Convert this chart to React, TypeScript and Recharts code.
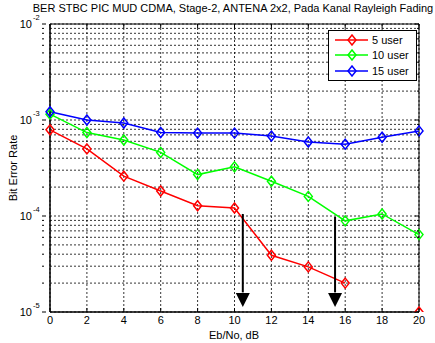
import React from "react";
import {
  LineChart,
  Line,
  XAxis,
  YAxis,
  CartesianGrid,
  ReferenceArea,
  ReferenceLine,
  ReferenceDot,
} from "recharts";

const ebno = [0, 2, 4, 6, 8, 10, 12, 14, 16, 18, 20];
const user5 = [7.9e-4, 5.0e-4, 2.6e-4, 1.82e-4, 1.28e-4, 1.21e-4, 3.9e-5, 2.95e-5, 2.0e-5, null, 1.0e-5];
const user10 = [1.15e-3, 7.4e-4, 6.2e-4, 4.6e-4, 2.7e-4, 3.25e-4, 2.3e-4, 1.6e-4, 8.9e-5, 1.05e-4, 6.4e-5];
const user15 = [1.22e-3, 1.0e-3, 9.3e-4, 7.4e-4, 7.3e-4, 7.3e-4, 6.8e-4, 5.9e-4, 5.6e-4, 6.6e-4, 7.7e-4];

const decades = [1e-5, 1e-4, 1e-3, 1e-2];
const yTicks: number[] = [];
[1e-5, 1e-4, 1e-3].forEach((d) => {
  for (let m = 1; m < 10; m++) yTicks.push(d * m);
});
yTicks.push(1e-2);

const series = [
  { key: "u5", name: "5 user", color: "#ff0000" },
  { key: "u10", name: "10 user", color: "#00ff00" },
  { key: "u15", name: "15 user", color: "#0000ff" },
];

const data = ebno.map((x, i) => ({ x, u5: user5[i], u10: user10[i], u15: user15[i] }));

const FONT = "'Liberation Sans', Arial, sans-serif";

const Diamond = (color: string) => (props: any) => {
  const { cx, cy, index } = props;
  if (cx == null || cy == null || props.value == null) return <g key={index} />;
  return (
    <path
      key={index}
      d={`M${cx},${cy - 5} L${cx + 4},${cy} L${cx},${cy + 5} L${cx - 4},${cy} Z`}
      fill="none"
      stroke={color}
      strokeWidth={1.5}
    />
  );
};

const YTick = (props: any) => {
  const { x, y, payload } = props;
  const v = payload.value;
  const isDecade = decades.some((d) => Math.abs(v - d) / d < 1e-6);
  const exp = Math.round(Math.log10(v));
  return (
    <g>
      <line x1={x} x2={x + (isDecade ? 4 : 2)} y1={y} y2={y} stroke="#000" />
      <line x1={419 - (isDecade ? 4 : 2)} x2={419} y1={y} y2={y} stroke="#000" />
      {isDecade && (
        <g fontFamily={FONT} fill="#000">
          <text x={x - 10} y={y + 4} textAnchor="end" fontSize={11}>10</text>
          <text x={x - 9} y={y - 4} textAnchor="start" fontSize={7.5}>{exp}</text>
        </g>
      )}
    </g>
  );
};

const XTick = (props: any) => {
  const { x, payload } = props;
  return (
    <g>
      <line x1={x} x2={x} y1={312} y2={308} stroke="#000" />
      <line x1={x} x2={x} y1={24} y2={28} stroke="#000" />
      <text x={x} y={324} textAnchor="middle" fontSize={11} fontFamily={FONT} fill="#000">
        {payload.value}
      </text>
    </g>
  );
};

const Arrow = (props: any) => {
  const { cx, cy } = props;
  return <path d={`M${cx - 7},${cy} L${cx + 7},${cy} L${cx},${cy + 14} Z`} fill="#000" />;
};

const LegendBox = () => (
  <div
    style={{
      position: "absolute",
      left: 328,
      top: 30,
      width: 89,
      height: 51,
      border: "1px solid #000",
      background: "#fff",
      fontFamily: FONT,
      fontSize: 11,
      boxSizing: "border-box",
    }}
  >
    {series.map((s, i) => (
      <div key={s.key} style={{ display: "flex", alignItems: "center", height: 15.5, marginTop: i === 0 ? 1 : 0 }}>
        <svg width={42} height={12}>
          <line x1={6} x2={39} y1={6} y2={6} stroke={s.color} strokeWidth={1.5} />
          <path d="M23,1 L27,6 L23,11 L19,6 Z" fill="none" stroke={s.color} strokeWidth={1.5} />
        </svg>
        <span style={{ marginLeft: 1 }}>{s.name}</span>
      </div>
    ))}
  </div>
);

export default function App() {
  return (
    <div style={{ position: "absolute", left: 0, top: 0, width: 435, height: 343, background: "#fff", overflow: "hidden" }}>
      <LineChart width={435} height={343} data={data} margin={{ top: 24, right: 16, left: 0, bottom: 0 }}>
        <CartesianGrid stroke="#000" strokeDasharray="2 2" strokeWidth={0.8} />
        <XAxis
          dataKey="x"
          type="number"
          domain={[0, 20]}
          ticks={ebno}
          height={31}
          tick={<XTick />}
          tickLine={false}
          axisLine={{ stroke: "#000" }}
        />
        <YAxis
          scale="log"
          type="number"
          domain={[1e-5, 1e-2]}
          ticks={yTicks}
          allowDataOverflow
          width={50}
          tick={<YTick />}
          tickLine={false}
          axisLine={{ stroke: "#000" }}
          interval={0}
        />
        <ReferenceArea x1={0} x2={20} y1={1e-5} y2={1e-2} fill="none" stroke="#000" strokeWidth={1} />
        {series.map((s) => (
          <Line
            key={s.key}
            dataKey={s.key}
            name={s.name}
            stroke={s.color}
            strokeWidth={1.5}
            dot={Diamond(s.color)}
            activeDot={false}
            isAnimationActive={false}
            connectNulls={false}
          />
        ))}
        <ReferenceLine segment={[{ x: 10.45, y: 1.05e-4 }, { x: 10.45, y: 1.6e-5 }]} stroke="#000" strokeWidth={2} />
        <ReferenceDot x={10.45} y={1.58e-5} shape={<Arrow />} />
        <ReferenceLine segment={[{ x: 15.45, y: 9.8e-5 }, { x: 15.45, y: 1.6e-5 }]} stroke="#000" strokeWidth={2} />
        <ReferenceDot x={15.45} y={1.58e-5} shape={<Arrow />} />
        <text x={233} y={12} textAnchor="middle" fontSize={11} fontFamily={FONT} fill="#000">
          BER STBC PIC MUD CDMA, Stage-2, ANTENA 2x2, Pada Kanal Rayleigh Fading
        </text>
        <text x={234} y={339} textAnchor="middle" fontSize={11} fontFamily={FONT} fill="#000">
          Eb/No, dB
        </text>
        <text x={17} y={168} textAnchor="middle" fontSize={11} fontFamily={FONT} fill="#000" transform="rotate(-90 17 168)">
          Bit Error Rate
        </text>
      </LineChart>
      <LegendBox />
    </div>
  );
}
